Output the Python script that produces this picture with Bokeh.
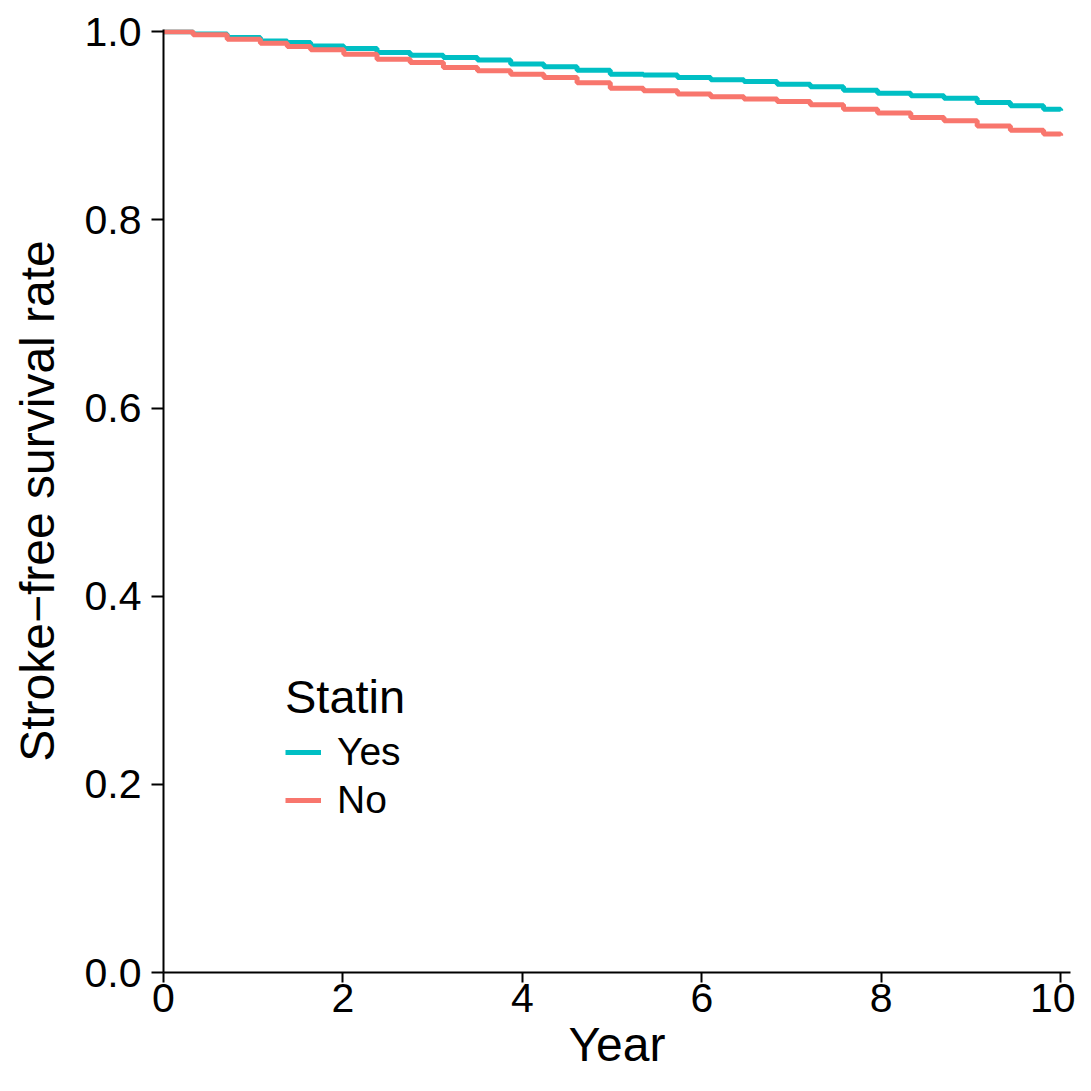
from bokeh.plotting import figure
from bokeh.models import Range1d, FixedTicker, NumeralTickFormatter, Legend, LegendItem
from bokeh.embed import file_html
from bokeh.resources import INLINE

# Data (Kaplan-Meier style step curves)
years_yes = [0.0, 0.22, 0.33, 0.71, 1.08, 1.38, 1.64, 2.01, 2.38, 2.75, 3.12, 3.50, 3.87,
             4.24, 4.61, 4.98, 5.35, 5.73, 6.10, 6.47, 6.84, 7.21, 7.58, 7.96, 8.33,
             8.70, 9.07, 9.44, 9.81, 10.0]
surv_yes = [1.000, 1.000, 0.9976, 0.994, 0.9904, 0.9886, 0.985, 0.9823, 0.978, 0.9752,
            0.9727, 0.970, 0.9657, 0.9628, 0.9593, 0.955, 0.954, 0.9514, 0.949, 0.9472,
            0.9444, 0.9416, 0.938, 0.9348, 0.932, 0.9295, 0.9249, 0.9214, 0.9178, 0.916]

years_no = [0.0, 0.22, 0.33, 0.71, 1.08, 1.38, 1.64, 2.01, 2.38, 2.75, 3.12, 3.50, 3.87,
            4.24, 4.61, 4.98, 5.35, 5.73, 6.10, 6.47, 6.84, 7.21, 7.58, 7.96, 8.33,
            8.70, 9.07, 9.44, 9.81, 10.0]
surv_no = [1.000, 1.000, 0.9968, 0.9922, 0.988, 0.9844, 0.981, 0.9763, 0.971, 0.9674,
           0.962, 0.9586, 0.955, 0.9514, 0.946, 0.940, 0.9373, 0.9338, 0.931, 0.9285,
           0.926, 0.9224, 0.9178, 0.9136, 0.909, 0.9054, 0.900, 0.8955, 0.8913, 0.8895]

x_ticks = [0, 2, 4, 6, 8, 10]
y_ticks = [0.0, 0.2, 0.4, 0.6, 0.8, 1.0]
group_labels = ["Yes", "No"]
group_colors = ["#00BFC4", "#F8766D"]
legend_title = "Statin"
x_title = "Year"
y_title = "Stroke\u2212free survival rate"

FONT = "Liberation Sans"

p = figure(width=1075, height=1075, output_backend="svg", toolbar_location=None,
           x_range=Range1d(0, 10.11), y_range=Range1d(0, 1.0025),
           min_border_left=163, min_border_right=5, min_border_top=29, min_border_bottom=103)
p.outline_line_color = None
p.grid.visible = False
p.background_fill_color = "white"

r_yes = p.step(years_yes, surv_yes, mode="after", line_color=group_colors[0], line_width=5)
r_no = p.step(years_no, surv_no, mode="after", line_color=group_colors[1], line_width=5)

for ax in (p.xaxis[0], p.yaxis[0]):
    ax.axis_line_width = 2
    ax.axis_line_color = "black"
    ax.major_tick_line_width = 2
    ax.major_tick_line_color = "black"
    ax.major_tick_in = 0
    ax.minor_tick_line_color = None
    ax.major_label_text_font = FONT
    ax.major_label_text_font_size = "41px"
    ax.major_label_text_color = "black"
    ax.axis_label_text_font = FONT
    ax.axis_label_text_font_size = "48px"
    ax.axis_label_text_font_style = "normal"
    ax.axis_label_text_color = "black"

p.xaxis.ticker = FixedTicker(ticks=x_ticks)
p.yaxis.ticker = FixedTicker(ticks=y_ticks)
p.yaxis.formatter = NumeralTickFormatter(format="0.0")
p.xaxis.major_tick_out = 10
p.yaxis.major_tick_out = 12
p.xaxis.major_label_standoff = 1
p.yaxis.major_label_standoff = 10
p.xaxis.axis_label = x_title
p.yaxis.axis_label = y_title
p.xaxis.axis_label_standoff = 3
p.yaxis.axis_label_standoff = 18

legend = Legend(items=[LegendItem(label=group_labels[0], renderers=[r_yes]),
                       LegendItem(label=group_labels[1], renderers=[r_no])],
                location=(122, 150), title=legend_title,
                title_text_font=FONT, title_text_font_size="47px", title_text_font_style="normal",
                title_text_color="black",
                label_text_font=FONT, label_text_font_size="39px", label_text_color="black",
                glyph_width=36, glyph_height=40, label_height=40, label_standoff=16,
                spacing=4, padding=0, margin=0, title_standoff=6,
                border_line_alpha=0, background_fill_alpha=0)
p.add_layout(legend, "center")

open("out.html", "w").write(file_html(p, INLINE))
